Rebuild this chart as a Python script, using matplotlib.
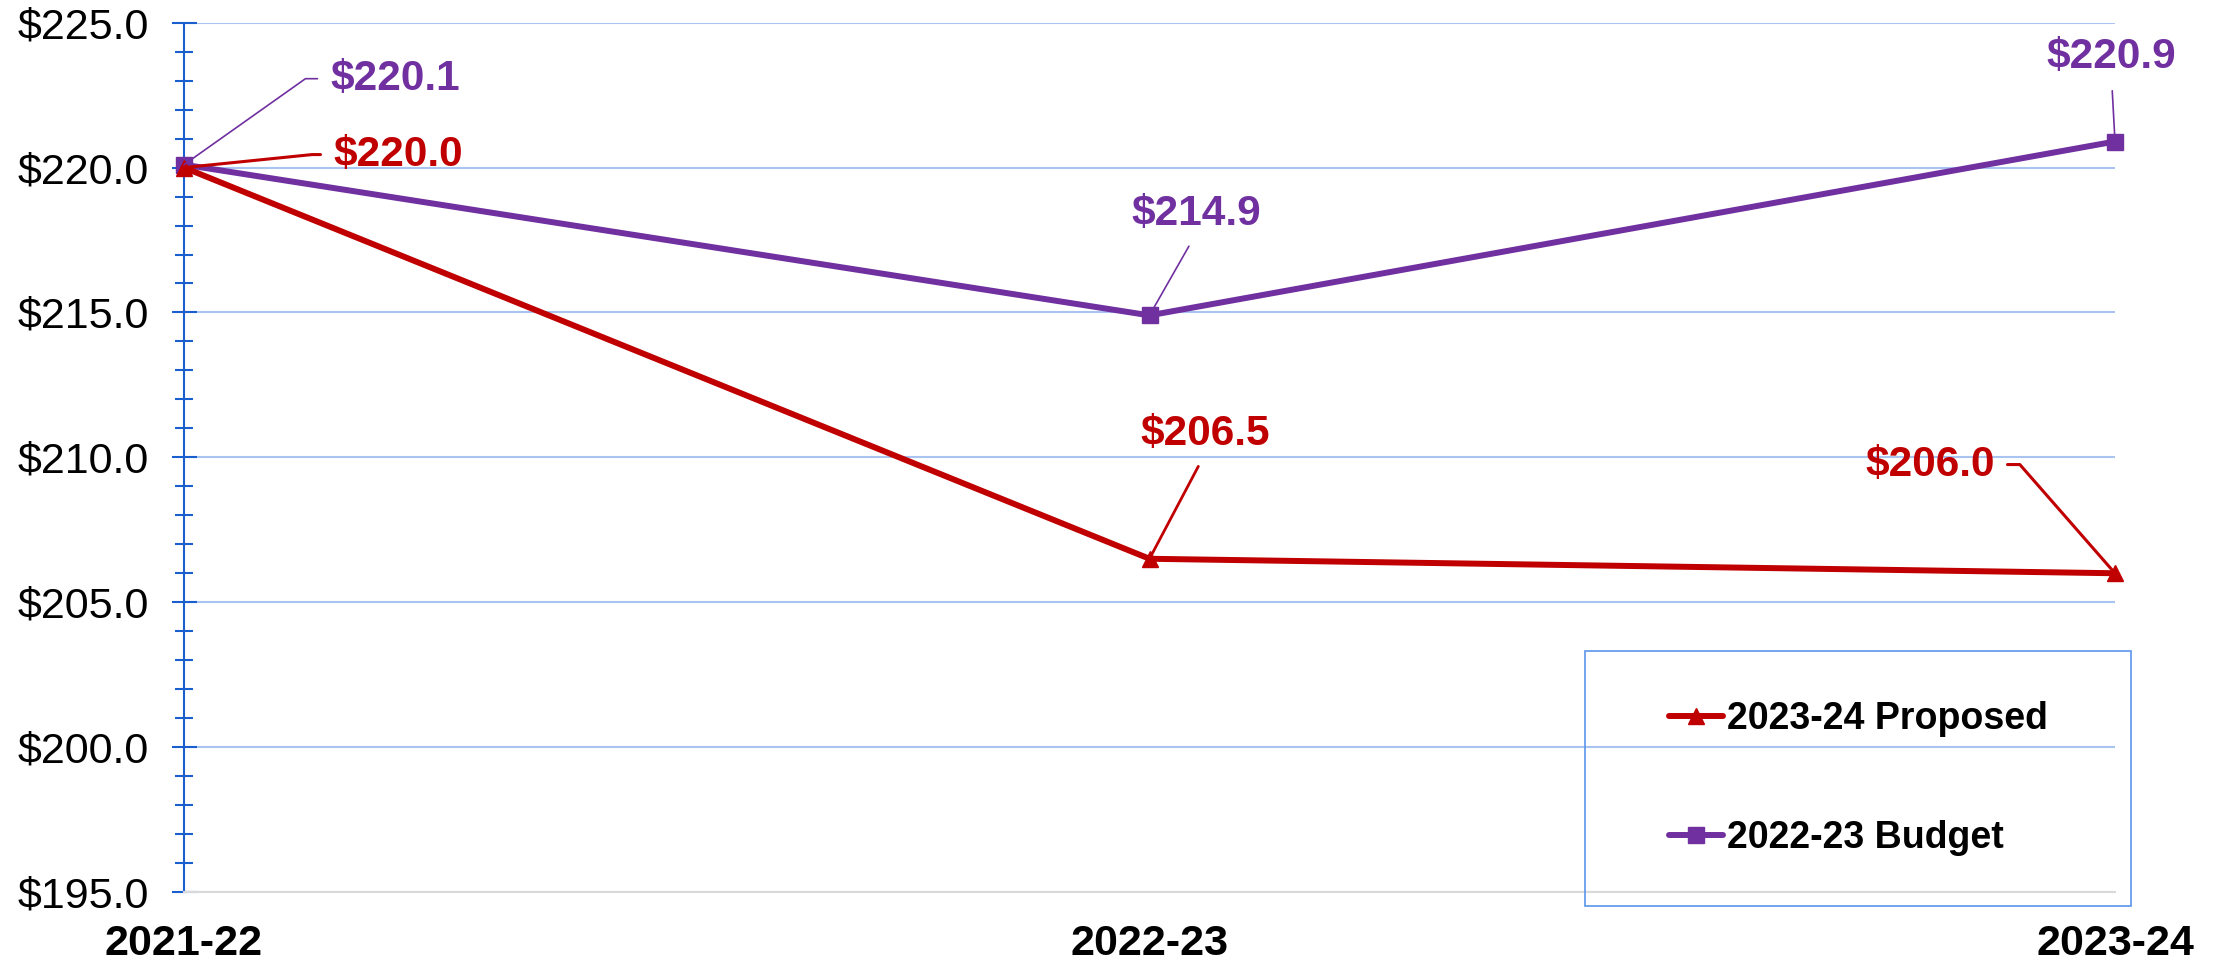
import matplotlib
matplotlib.use("Agg")
import matplotlib.pyplot as plt
from matplotlib.patches import Rectangle
from matplotlib.ticker import MultipleLocator

plt.rcParams['font.family'] = ['Liberation Sans', 'DejaVu Sans']

years = ["2021-22", "2022-23", "2023-24"]
proposed = [220.0, 206.5, 206.0]
budget = [220.1, 214.9, 220.9]
y_ticks = [195, 200, 205, 210, 215, 220, 225]

RED = "#c00000"
PURPLE = "#7030a0"
AXIS_BLUE = "#1a5fd0"
GRID_BLUE = "#a9c4f0"

W, H = 2223, 961
fig = plt.figure(figsize=(W / 100, H / 100), dpi=100)
ax = fig.add_axes([184 / W, 1 - 892 / H, (2115 - 184) / W, (892 - 22.7) / H])
x = list(range(len(years)))

h_bud, = ax.plot(x, budget, color=PURPLE, lw=4.3, marker='s', ms=11,
                 solid_capstyle='round', clip_on=False, zorder=3)
h_prop, = ax.plot(x, proposed, color=RED, lw=4.3, marker='^', ms=11,
                  solid_capstyle='round', clip_on=False, zorder=4)

ax.set_xlim(0, len(years) - 1)
ax.set_ylim(y_ticks[0], y_ticks[-1])
ax.set_xticks(x)
ax.set_xticklabels(years, fontsize=31, fontweight='bold')
ax.set_yticks(y_ticks)
ax.set_yticklabels([f"${v:.1f}" for v in y_ticks], fontsize=31)
ax.yaxis.set_minor_locator(MultipleLocator(1))

ax.tick_params(axis='y', which='major', direction='inout', length=18, width=1.5,
               color=AXIS_BLUE, pad=16.5)
ax.tick_params(axis='y', which='minor', direction='inout', length=13, width=1.5,
               color=AXIS_BLUE)
ax.tick_params(axis='x', length=0, pad=23)

ax.set_axisbelow(True)
ax.yaxis.grid(True, which='major', color=GRID_BLUE, lw=1.5)
for s in ['top', 'right']:
    ax.spines[s].set_visible(False)
ax.spines['left'].set_color(AXIS_BLUE)
ax.spines['left'].set_linewidth(1.5)
ax.spines['bottom'].set_color("#d9d9d9")
ax.spines['bottom'].set_linewidth(1.5)


def label(xi, val, color, offset, ha, relpos, conn, lw, shrink):
    ax.annotate(f"${val:.1f}", xy=(xi, val), xytext=offset, textcoords='offset pixels',
                ha=ha, va='center', fontsize=30.5, fontweight='bold', color=color,
                arrowprops=dict(arrowstyle='-', color=color, lw=lw, relpos=relpos,
                                connectionstyle=conn, shrinkA=shrink, shrinkB=0),
                annotation_clip=False, zorder=5)


# value labels with leader lines
label(0, budget[0], PURPLE, (146, 86), 'left', (0, 0.5),
      "angle,angleA=0,angleB=35.3,rad=0", 1.2, 7)
label(0, proposed[0], RED, (149, 13), 'left', (0, 0.5),
      "angle,angleA=0,angleB=5.8,rad=0", 2.2, 7)
label(1, budget[1], PURPLE, (46.5, 101.6), 'center', (0.5, 0),
      "arc3", 1.2, 8)
label(1, proposed[1], RED, (55.5, 125), 'center', (0.5, 0),
      "arc3", 2.0, 8)
label(2, budget[2], PURPLE, (-3.5, 84.6), 'center', (0.5, 0),
      "arc3", 1.2, 8)
label(2, proposed[2], RED, (-120, 108.7), 'right', (1, 0.5),
      "angle,angleA=0,angleB=131.2,rad=0", 2.2, 7)

fig.legend([h_prop, h_bud], ["2023-24 Proposed", "2022-23 Budget"],
           loc='center', bbox_to_anchor=(1858 / W, 1 - 778.5 / H),
           frameon=False, prop=dict(weight='bold', size=27),
           handlelength=1.45, handletextpad=0.1, labelspacing=2.2, numpoints=1)
fig.add_artist(Rectangle((1585 / W, 1 - 906 / H), 546 / W, 255 / H,
                         transform=fig.transFigure, fill=False,
                         edgecolor="#5b95ea", lw=1.2))

fig.savefig("out.png", dpi=100)
